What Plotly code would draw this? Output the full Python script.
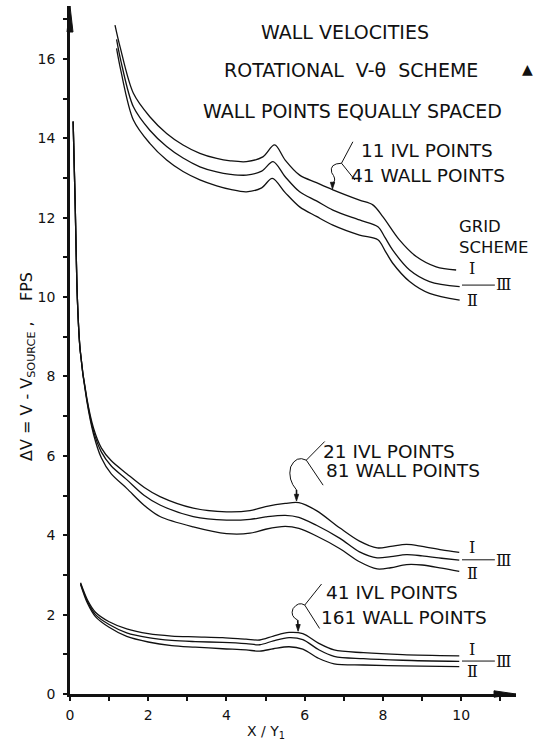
import plotly.graph_objects as go

# ---------------------------------------------------------------------------
# Wall velocity difference  dV = V - V_source  (fps)  versus  X / Y1
# Three resolutions, each computed with grid schemes I, III and II
# ---------------------------------------------------------------------------

# 11 IVL points / 41 wall points
x_11_I = [1.15, 1.28, 1.62, 2.04, 2.47, 2.89, 3.32, 3.75, 4.10, 4.51, 4.93, 5.23,
          5.50, 5.87, 6.30, 6.72, 7.40, 7.74, 8.00, 8.42, 8.85, 9.36, 9.87]
dv_11_I = [16.85, 16.30, 15.13, 14.54, 14.12, 13.83, 13.62, 13.49, 13.43, 13.41, 13.53, 13.83,
           13.45, 13.07, 12.88, 12.70, 12.44, 12.32, 12.02, 11.44, 11.02, 10.76, 10.68]

x_11_III = [1.19, 1.30, 1.62, 2.04, 2.47, 2.89, 3.32, 3.75, 4.10, 4.51, 4.90, 5.19,
            5.50, 5.87, 6.30, 6.72, 7.40, 7.87, 8.05, 8.25, 8.68, 9.19, 9.96]
dv_11_III = [16.49, 15.95, 14.79, 14.20, 13.79, 13.50, 13.28, 13.15, 13.09, 13.07, 13.17, 13.41,
             13.03, 12.65, 12.42, 12.19, 11.94, 11.77, 11.50, 11.18, 10.68, 10.39, 10.26]

x_11_II = [1.19, 1.30, 1.62, 2.04, 2.47, 2.89, 3.32, 3.75, 4.10, 4.51, 4.90, 5.17,
           5.50, 5.87, 6.30, 6.72, 7.40, 7.87, 8.05, 8.25, 8.68, 9.19, 9.96]
dv_11_II = [16.26, 15.70, 14.46, 13.87, 13.45, 13.16, 12.95, 12.80, 12.71, 12.65, 12.75, 12.99,
            12.63, 12.27, 12.03, 11.81, 11.56, 11.44, 11.17, 10.85, 10.39, 10.09, 9.92]

# 21 IVL points / 81 wall points
x_21 = [0.08, 0.13, 0.19, 0.26, 0.43, 0.60, 0.80, 1.05, 1.45, 1.90, 2.30, 3.15, 4.00,
        4.60, 5.00, 5.50, 5.85, 6.30, 6.90, 7.40, 7.85, 8.20, 8.60, 9.00, 9.50, 9.95]
dv_21_I = [14.42, 12.44, 9.92, 8.66, 7.45, 6.70, 6.20, 5.88, 5.55, 5.20, 4.97, 4.68, 4.59,
           4.62, 4.72, 4.80, 4.82, 4.62, 4.18, 3.85, 3.68, 3.72, 3.77, 3.72, 3.63, 3.57]
dv_21_III = [14.42, 12.44, 9.92, 8.66, 7.42, 6.62, 6.10, 5.75, 5.40, 5.00, 4.76, 4.47, 4.38,
             4.40, 4.46, 4.50, 4.45, 4.25, 3.92, 3.58, 3.43, 3.46, 3.51, 3.48, 3.42, 3.37]
dv_21_II = [14.42, 12.44, 9.92, 8.66, 7.38, 6.55, 5.95, 5.55, 5.18, 4.75, 4.47, 4.21, 4.04,
            4.05, 4.15, 4.22, 4.17, 3.98, 3.66, 3.33, 3.15, 3.18, 3.26, 3.25, 3.17, 3.09]

# 41 IVL points / 161 wall points
x_41 = [0.27, 0.45, 0.65, 1.00, 1.45, 2.00, 2.60, 3.20, 3.90, 4.50, 4.85, 5.20, 5.60,
        5.95, 6.35, 6.75, 7.50, 8.50, 9.95]
dv_41_I = [2.80, 2.36, 2.06, 1.82, 1.64, 1.52, 1.46, 1.44, 1.42, 1.38, 1.36, 1.46, 1.55,
           1.52, 1.28, 1.11, 1.04, 0.99, 0.96]
dv_41_III = [2.78, 2.32, 2.00, 1.75, 1.54, 1.42, 1.35, 1.32, 1.30, 1.27, 1.24, 1.34, 1.42,
             1.37, 1.12, 0.95, 0.89, 0.85, 0.82]
dv_41_II = [2.76, 2.28, 1.95, 1.68, 1.45, 1.31, 1.22, 1.18, 1.14, 1.11, 1.08, 1.14, 1.19,
            1.13, 0.90, 0.76, 0.73, 0.71, 0.69]

# numbered ticks every second unit (plain marks in between)
x_tick_vals = [0, 2, 4, 6, 8, 10]
x_tick_text = ["0", "2", "4", "6", "8", "10"]
y_tick_vals = [0, 2, 4, 6, 8, 10, 12, 14, 16]
y_tick_text = ["0", "2", "4", "6", "8", "10", "12", "14", "16"]

# ---------------------------------------------------------------------------
X_RANGE = [0, 11.4]
Y_RANGE = [0, 17.33]
W, H = 534, 741
M = dict(l=70, r=17.5, t=6, b=47)
PW = W - M["l"] - M["r"]
PH = H - M["t"] - M["b"]

LETTER = "DejaVu Sans"
ROMAN = "DejaVu Serif"
INK = "#111111"


def to_paper(x, y):
    return ((x - X_RANGE[0]) / (X_RANGE[1] - X_RANGE[0]),
            (y - Y_RANGE[0]) / (Y_RANGE[1] - Y_RANGE[0]))


fig = go.Figure()

curves = [
    (x_11_I, dv_11_I), (x_11_III, dv_11_III), (x_11_II, dv_11_II),
    (x_21, dv_21_I), (x_21, dv_21_III), (x_21, dv_21_II),
    (x_41, dv_41_I), (x_41, dv_41_III), (x_41, dv_41_II),
]
for xs, ys in curves:
    fig.add_trace(go.Scatter(
        x=xs, y=ys, mode="lines",
        line=dict(color=INK, width=1.3, shape="spline", smoothing=0.9),
        hoverinfo="skip",
    ))

annotations = []


def text(t, x, y, size=18.5, anchor="left", family=LETTER, ref="data", angle=0):
    if ref == "paper":
        x, y = to_paper(x, y)
        xr, yr = "paper", "paper"
    else:
        xr, yr = "x", "y"
    annotations.append(dict(
        text=t, x=x, y=y, xref=xr, yref=yr, xanchor=anchor, yanchor="middle",
        showarrow=False, textangle=angle, borderpad=0, align="left",
        font=dict(family=family, size=size, color=INK),
    ))


# heading block
text("WALL VELOCITIES", 7.02, 16.68, size=19, anchor="center")
text("ROTATIONAL\u00a0\u00a0V-\u03b8\u00a0\u00a0SCHEME", 7.17, 15.72, size=19, anchor="center")
text("\u25b2", 11.69, 15.74, size=14, anchor="center", ref="paper")
text("WALL POINTS EQUALLY SPACED", 7.21, 14.69, size=19, anchor="center")

# resolution labels
text("11 IVL POINTS", 7.40, 13.68)
text("41 WALL POINTS", 7.15, 13.07)
text("21 IVL POINTS", 6.43, 6.12)
text("81 WALL POINTS", 6.51, 5.62)
text("41 IVL POINTS", 6.51, 2.56)
text("161 WALL POINTS", 6.38, 1.93)

# grid scheme key
text("GRID<br>SCHEME", 9.93, 11.51, size=16.5)
for y_i, y_iii, y_ii in [(10.72, 10.32, 9.92), (3.69, 3.36, 3.04), (1.13, 0.82, 0.56)]:
    text("\u2160", 10.28, y_i, size=16, anchor="center", family=ROMAN)
    text("\u2161", 10.30, y_ii, size=16, anchor="center", family=ROMAN)
    text("\u2162", 11.08, y_iii, size=16, anchor="center", family=ROMAN)

# axis titles
text("\u0394V = V - V<sub>SOURCE</sub> ,\u00a0\u00a0\u00a0\u00a0FPS", -1.1, 8.26,
     size=16, anchor="center", ref="paper", angle=-90)
text("X / Y<sub>1</sub>", 5.0, -0.95, size=14, anchor="center", ref="paper")

shapes = []
leader = dict(type="path", xref="x", yref="y", line=dict(color=INK, width=1))
# brackets and curls tying each label pair to its curve
for p in [
    "M 7.23,13.91 L 6.94,13.37 L 7.28,12.95",
    "M 6.94,13.37 Q 6.62,13.36 6.69,13.13 Q 6.80,12.98 6.75,12.90",
    "M 6.51,6.36 L 6.04,5.89 L 6.47,5.26",
    "M 6.04,5.89 Q 5.78,6.02 5.64,5.72 Q 5.56,5.40 5.79,5.14",
    "M 6.43,2.77 L 6.00,2.24 L 6.38,1.65",
    "M 6.00,2.24 Q 5.84,2.34 5.70,2.15 Q 5.62,1.96 5.82,1.86",
]:
    shapes.append(dict(leader, path=p))

# short arrows from each curl down onto the upper curve of its group
for (tx, ty), (sx, sy) in [((6.71, 12.72), (6.75, 12.90)),
                           ((5.79, 4.86), (5.79, 5.14)),
                           ((5.83, 1.58), (5.82, 1.86))]:
    shapes.append(dict(type="line", xref="x", yref="y", x0=sx, y0=sy, x1=tx, y1=ty + 0.1,
                       line=dict(color=INK, width=1.6)))
    shapes.append(dict(type="path", xref="x", yref="y", fillcolor=INK,
                       line=dict(color=INK, width=0.8),
                       path=f"M {tx},{ty} L {tx - 0.055},{ty + 0.17} L {tx + 0.055},{ty + 0.17} Z"))

# fraction bars leading from scheme III to its label
for y_bar in [10.30, 3.38, 0.83]:
    shapes.append(dict(type="line", xref="x", yref="y", x0=10.02, x1=10.86,
                       y0=y_bar, y1=y_bar, line=dict(color=INK, width=1)))

# arrow heads on the axes
hx, hy = 3.0 / PW, 3.2 / PH
shapes.append(dict(type="path", xref="paper", yref="paper", fillcolor=INK,
                   line=dict(color=INK, width=1),
                   path=f"M 0,1 L {-hx},{1 - 26 / PH} L {hx},{1 - 26 / PH} Z"))
shapes.append(dict(type="path", xref="paper", yref="paper", fillcolor=INK,
                   line=dict(color=INK, width=1),
                   path=f"M 1,0 L {1 - 22 / PW},{hy} L {1 - 22 / PW},{-hy} Z"))

axis_style = dict(
    showline=True, linewidth=2.5, linecolor=INK, showgrid=False, zeroline=False,
    ticks="outside", ticklen=4, tickwidth=1.5, tickcolor=INK,
    tickfont=dict(family=LETTER, size=14, color=INK),
    minor=dict(tick0=0, dtick=1, ticks="outside", ticklen=4, tickwidth=1.5,
               tickcolor=INK, showgrid=False),
    fixedrange=True,
)
fig.update_xaxes(range=X_RANGE, tickvals=x_tick_vals, ticktext=x_tick_text,
                 ticklabelstandoff=2, **axis_style)
fig.update_yaxes(range=Y_RANGE, tickvals=y_tick_vals, ticktext=y_tick_text,
                 ticklabelstandoff=5, **axis_style)

fig.update_layout(
    width=W, height=H, margin=M, showlegend=False,
    plot_bgcolor="white", paper_bgcolor="white",
    annotations=annotations, shapes=shapes,
)

fig.write_html("out.html")
